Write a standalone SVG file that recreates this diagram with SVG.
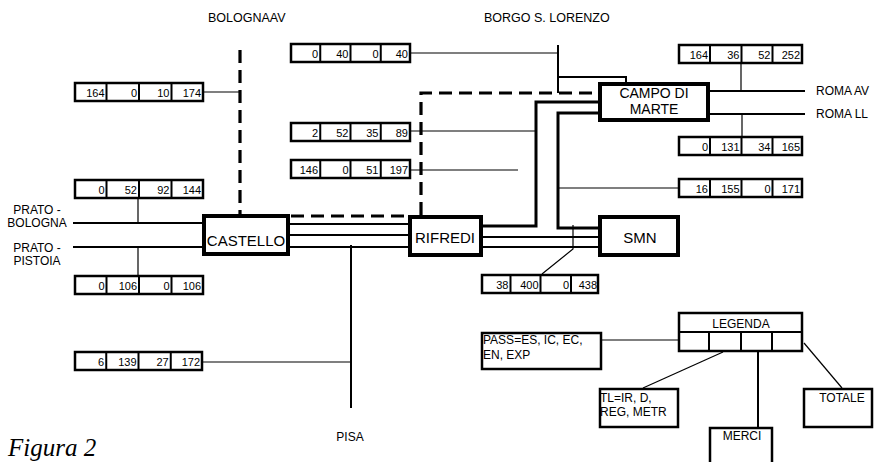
<svg xmlns="http://www.w3.org/2000/svg" width="875" height="462" viewBox="0 0 875 462">
<style>
text{font-family:"Liberation Sans",Arial,sans-serif;fill:#000}
.lbl{font-size:12.5px}
.sm{font-size:12px}
.num{font-size:11px;text-anchor:end}
.node{font-size:15px;text-anchor:middle}
.node2{font-size:14px;text-anchor:middle}
.mid{text-anchor:middle}
.box{fill:#fff;stroke:#000;stroke-width:2.5}
.div{stroke:#000;stroke-width:2}
.nbox{fill:#fff;stroke:#000;stroke-width:4}
.thin{fill:none;stroke:#000;stroke-width:1.2}
.med{fill:none;stroke:#000;stroke-width:2}
.thick{fill:none;stroke:#000;stroke-width:3}
.dash{fill:none;stroke:#000;stroke-width:3.2;stroke-dasharray:13 7}
.fig{font-family:"Liberation Serif","Times New Roman",serif;font-style:italic;font-size:25px}
</style>

<g id="connectors">
  <path class="dash" d="M240,50 V214"/>
  <path class="dash" d="M291,216 H408"/>
  <path class="dash" d="M421,215 V93 H598"/>
  <path class="med" d="M73,223 H202"/>
  <path class="med" d="M73,247 H202"/>
  <path class="thin" d="M138,199 V223"/>
  <path class="thin" d="M138,247 V275"/>
  <path class="med" d="M290,224 H408"/>
  <path class="med" d="M290,235 H408"/>
  <path class="med" d="M290,247 H408"/>
  <path class="med" d="M351,245 V408"/>
  <path class="thin" d="M203,362 H351"/>
  <path class="thin" d="M204,92 H240"/>
  <path class="thin" d="M411,53 H558"/>
  <path class="med" d="M558,45 V93"/>
  <path class="med" d="M558,77 H626 V82"/>
  <path class="thick" d="M483,226 H536 V102 H598"/>
  <path class="thick" d="M598,113 H558 V228 H598"/>
  <path class="thin" d="M411,131 H536"/>
  <path class="thin" d="M411,170 H518"/>
  <path class="thin" d="M558,188 H678"/>
  <path class="med" d="M483,237 H598"/>
  <path class="med" d="M483,247 H598"/>
  <path class="thin" d="M573,225 V249 L542,274"/>
  <path class="med" d="M710,91 H805"/>
  <path class="med" d="M710,114 H805"/>
  <path class="thin" d="M741,63 V91"/>
  <path class="thin" d="M742,114 V136"/>
  <path class="thin" d="M602,340 H678"/>
  <path class="thin" d="M643,388 L723,352"/>
  <path class="med" d="M758,352 V427"/>
  <path class="thin" d="M804,343 L842,388"/>
</g>

<g id="castello"><rect class="nbox" x="204" y="216" width="84" height="38"/><text class="node" x="246" y="246">CASTELLO</text></g>
<g id="rifredi"><rect class="nbox" x="410" y="217" width="71" height="38"/><text class="node" x="445" y="243">RIFREDI</text></g>
<g id="smn"><rect class="nbox" x="600" y="217" width="78" height="38"/><text class="node" x="640" y="243">SMN</text></g>
<g id="campo"><rect class="nbox" x="600" y="84" width="108" height="36"/><text class="node2" x="654" y="98">CAMPO DI</text><text class="node2" x="654" y="114">MARTE</text></g>

<g id="box-bolav">
  <rect class="box" x="75" y="83" width="128" height="18"/>
  <path class="div" d="M106.5,83 V101 M139,83 V101 M171.5,83 V101"/>
  <text class="num" x="104.5" y="97">164</text><text class="num" x="137" y="97">0</text><text class="num" x="169.5" y="97">10</text><text class="num" x="201" y="97">174</text>
</g>
<g id="box-prbo">
  <rect class="box" x="75" y="180" width="128" height="18"/>
  <path class="div" d="M106.5,180 V198 M139,180 V198 M171.5,180 V198"/>
  <text class="num" x="104.5" y="194">0</text><text class="num" x="137" y="194">52</text><text class="num" x="169.5" y="194">92</text><text class="num" x="201" y="194">144</text>
</g>
<g id="box-prpi">
  <rect class="box" x="75" y="276" width="128" height="18"/>
  <path class="div" d="M106.5,276 V294 M139,276 V294 M171.5,276 V294"/>
  <text class="num" x="104.5" y="290">0</text><text class="num" x="137" y="290">106</text><text class="num" x="169.5" y="290">0</text><text class="num" x="201" y="290">106</text>
</g>
<g id="box-pisa">
  <rect class="box" x="75" y="352" width="127" height="18"/>
  <path class="div" d="M106.25,352 V370 M138.5,352 V370 M170.75,352 V370"/>
  <text class="num" x="104" y="366">6</text><text class="num" x="136.5" y="366">139</text><text class="num" x="168.75" y="366">27</text><text class="num" x="200" y="366">172</text>
</g>
<g id="box-borgo">
  <rect class="box" x="291" y="44" width="119" height="18"/>
  <path class="div" d="M320.25,44 V62 M350.5,44 V62 M380.75,44 V62"/>
  <text class="num" x="318" y="58">0</text><text class="num" x="348.5" y="58">40</text><text class="num" x="378.5" y="58">0</text><text class="num" x="408" y="58">40</text>
</g>
<g id="box-89">
  <rect class="box" x="291" y="123" width="119" height="18"/>
  <path class="div" d="M320.25,123 V141 M350.5,123 V141 M380.75,123 V141"/>
  <text class="num" x="318" y="137">2</text><text class="num" x="348.5" y="137">52</text><text class="num" x="378.5" y="137">35</text><text class="num" x="408" y="137">89</text>
</g>
<g id="box-197">
  <rect class="box" x="291" y="160" width="119" height="18"/>
  <path class="div" d="M320.25,160 V178 M350.5,160 V178 M380.75,160 V178"/>
  <text class="num" x="318" y="174">146</text><text class="num" x="348.5" y="174">0</text><text class="num" x="378.5" y="174">51</text><text class="num" x="408" y="174">197</text>
</g>
<g id="box-romaav">
  <rect class="box" x="679" y="45" width="123" height="18"/>
  <path class="div" d="M710,45 V63 M741.5,45 V63 M772.5,45 V63"/>
  <text class="num" x="708" y="59">164</text><text class="num" x="739.5" y="59">36</text><text class="num" x="770.5" y="59">52</text><text class="num" x="800" y="59">252</text>
</g>
<g id="box-romall">
  <rect class="box" x="679" y="137" width="123" height="18"/>
  <path class="div" d="M710,137 V155 M741.5,137 V155 M772.5,137 V155"/>
  <text class="num" x="708" y="151">0</text><text class="num" x="739.5" y="151">131</text><text class="num" x="770.5" y="151">34</text><text class="num" x="800" y="151">165</text>
</g>
<g id="box-171">
  <rect class="box" x="679" y="179" width="123" height="18"/>
  <path class="div" d="M710,179 V197 M741.5,179 V197 M772.5,179 V197"/>
  <text class="num" x="708" y="193">16</text><text class="num" x="739.5" y="193">155</text><text class="num" x="770.5" y="193">0</text><text class="num" x="800" y="193">171</text>
</g>
<g id="box-438">
  <rect class="box" x="482" y="275" width="116" height="18"/>
  <path class="div" d="M510.5,275 V293 M540.5,275 V293 M571,275 V293"/>
  <text class="num" x="508.5" y="289">38</text><text class="num" x="538.5" y="289">400</text><text class="num" x="569" y="289">0</text><text class="num" x="597" y="289">438</text>
</g>

<g id="legenda">
  <rect class="box" x="679" y="313" width="123" height="38"/>
  <path class="div" d="M679,332 H802 M709,332 V351 M741,332 V351 M772,332 V351"/>
  <text class="sm mid" x="741" y="328">LEGENDA</text>
</g>
<g id="leg-pass"><rect class="box" x="482" y="333" width="119" height="36"/><text class="sm" x="483" y="344">PASS=ES, IC, EC,</text><text class="sm" x="483" y="359">EN, EXP</text></g>
<g id="leg-tl"><rect class="box" x="600" y="389" width="78" height="38"/><text class="sm" x="600" y="402">TL=IR, D,</text><text class="sm" x="600" y="416">REG, METR</text></g>
<g id="leg-merci"><rect class="box" x="710" y="428" width="62" height="40"/><text class="sm mid" x="742" y="440">MERCI</text></g>
<g id="leg-totale"><rect class="box" x="804" y="389" width="68" height="38"/><text class="sm mid" x="842" y="402">TOTALE</text></g>

<g id="labels">
  <text class="lbl" x="208" y="22">BOLOGNAAV</text>
  <text class="lbl" x="484" y="22">BORGO S. LORENZO</text>
  <text class="sm mid" x="37" y="214">PRATO -</text>
  <text class="sm mid" x="37" y="227">BOLOGNA</text>
  <text class="sm mid" x="37" y="252">PRATO -</text>
  <text class="sm mid" x="37" y="265">PISTOIA</text>
  <text class="sm" x="816" y="95">ROMA AV</text>
  <text class="sm" x="816" y="118">ROMA LL</text>
  <text class="sm mid" x="350" y="441">PISA</text>
  <text class="fig" x="8" y="456">Figura 2</text>
</g>
</svg>
